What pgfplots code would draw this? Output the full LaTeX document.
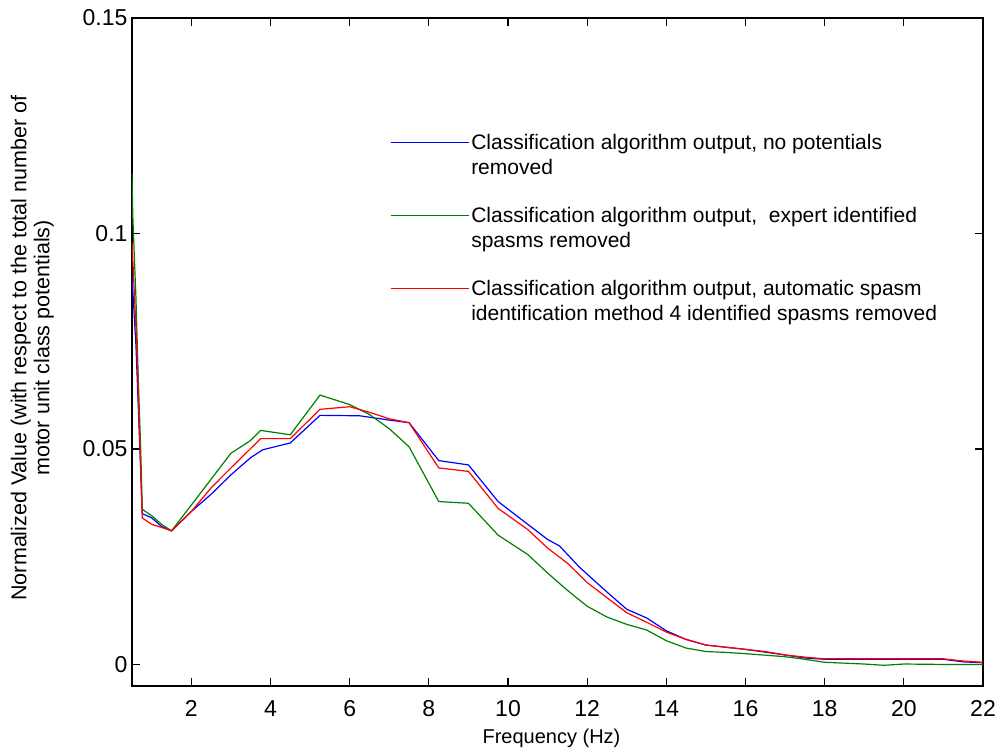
\documentclass[border=0pt]{standalone}
\usepackage{pgfplots}
\pgfplotsset{compat=1.18}
\usepackage{fontspec}
\setmainfont{Liberation Sans}
\begin{document}
\begin{tikzpicture}
\begin{axis}[
  scale only axis,
  width=851pt, height=668pt,
  xmin=0.5, xmax=22, ymin=-0.005, ymax=0.15,
  xtick={2,4,...,22},
  ytick={0,0.05,0.1,0.15},
  yticklabels={0,0.05,0.1,0.15},
  tick align=inside, tick pos=both,
  major tick length=8pt,
  axis line style={line width=1.2pt},
  tick style={line width=1.2pt, black},
  /pgf/number format/assume math mode=true,
  ticklabel style={font=\fontsize{23}{27}\selectfont},
  xticklabel style={yshift=-11pt},
  yticklabel style={xshift=-1pt},
  xlabel={Frequency (Hz)},
  ylabel={Normalized Value (with respect to the total number of\\motor unit class potentials)},
  xlabel style={font=\fontsize{20}{24}\selectfont, yshift=-5pt, xshift=-6pt},
  ylabel style={font=\fontsize{21.5}{23}\selectfont, align=center, yshift=22pt, xshift=4pt},
  legend style={at={(rel axis cs:0.303,0.829)}, anchor=north west, draw=none, fill=none,
    font=\fontsize{21}{25}\selectfont, inner sep=0pt, row sep=27pt,
    cells={anchor=west, align=left}},
  legend cell align=left,
  legend image code/.code={\draw[#1, line width=1.2pt] (0pt,12.5pt) -- (78pt,12.5pt);},
  every axis plot/.append style={line width=1.2pt},
]
\addplot[blue] coordinates {
(0.5,0.09) (0.6,0.074) (0.72,0.045) (0.76,0.035) (1.0,0.034) (1.25,0.032) (1.5,0.031)
(2,0.0355) (2.5,0.0395) (3,0.044) (3.5,0.048) (3.8,0.0498) (4.5,0.0514) (5.25,0.0578)
(6.25,0.0577) (7,0.0567) (7.5,0.0561) (8.25,0.0473) (9,0.0463) (9.75,0.0378) (10.5,0.0325)
(11,0.029) (11.3,0.0275) (11.8,0.0226) (12.5,0.0168) (13,0.0128) (13.5,0.0108) (14,0.0078)
(14.5,0.0058) (15,0.0045) (15.5,0.004) (16,0.0035) (17,0.0022) (17.5,0.0015) (18,0.0012)
(20,0.0012) (21,0.0012) (21.5,0.0006) (22,0.0004)
};
\addlegendentry{Classification algorithm output, no potentials\\removed}
\addplot[green!50!black] coordinates {
(0.5,0.114) (0.52,0.104) (0.6,0.085) (0.66,0.066) (0.72,0.05) (0.76,0.036) (1.0,0.0345)
(1.25,0.0325) (1.5,0.031) (2,0.037) (2.5,0.043) (3,0.049) (3.5,0.052) (3.75,0.0543)
(4.5,0.0533) (5.25,0.0625) (6,0.0603) (6.5,0.058) (7,0.0547) (7.5,0.0505) (8.25,0.0378)
(9,0.0374) (9.75,0.030) (10.5,0.0255) (11,0.0212) (11.5,0.0172) (12,0.0135) (12.5,0.011)
(13,0.0093) (13.5,0.008) (14,0.0055) (14.5,0.0038) (15,0.003) (15.5,0.0028) (16,0.0025)
(17,0.0018) (17.5,0.0012) (18,0.0005) (19,0.0001) (19.5,-0.0002) (20,0.0001) (21,0.0) (22,0.0)
};
\addlegendentry{Classification algorithm output,\ \ expert identified\\spasms removed}
\addplot[red] coordinates {
(0.5,0.098) (0.62,0.074) (0.72,0.045) (0.76,0.034) (1.0,0.0325) (1.25,0.0318) (1.5,0.031)
(2,0.0355) (2.5,0.041) (3,0.0456) (3.75,0.0524) (4.5,0.0524) (5.25,0.0592) (6,0.0598)
(6.5,0.0585) (7,0.057) (7.5,0.0561) (8.25,0.0456) (9,0.0448) (9.75,0.0362) (10.5,0.0313)
(11,0.027) (11.5,0.0235) (12,0.019) (12.5,0.0155) (13,0.012) (13.5,0.0098) (14,0.0075)
(14.5,0.0058) (15,0.0045) (15.5,0.004) (16,0.0035) (16.5,0.003) (17,0.0022) (17.5,0.0017)
(18,0.0013) (19,0.0013) (20,0.0013) (21,0.0013) (21.5,0.0008) (22,0.0005)
};
\addlegendentry{Classification algorithm output, automatic spasm\\identification method 4 identified spasms removed}
\end{axis}
\pgfresetboundingbox
\path[use as bounding box] (current axis.south west) ++(-132pt,-63pt) rectangle ([shift={(12pt,18pt)}]current axis.north east);
\end{tikzpicture}
\end{document}
